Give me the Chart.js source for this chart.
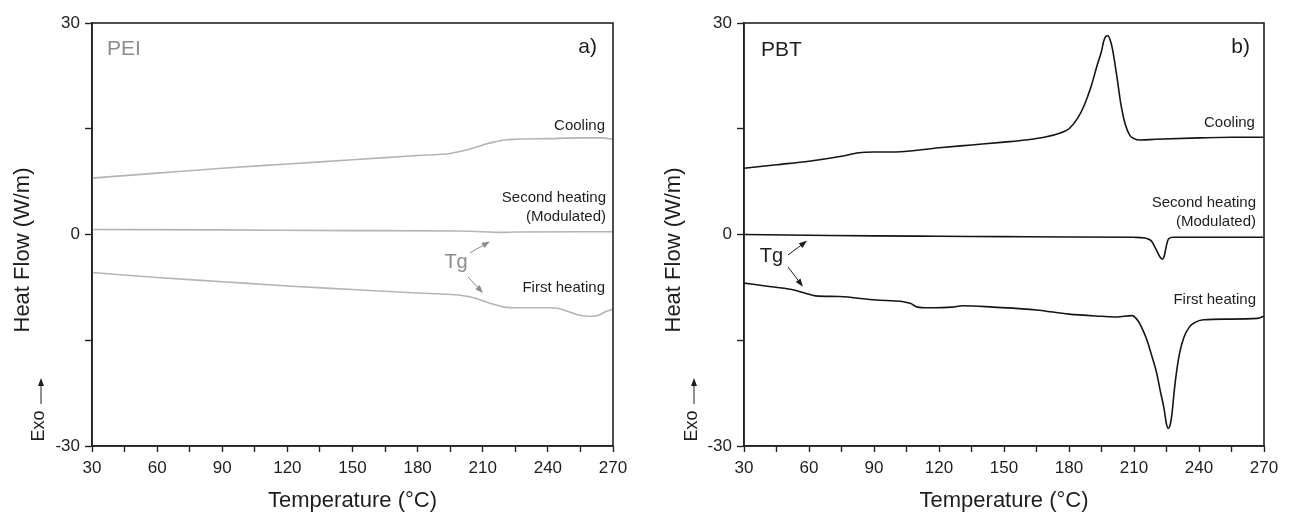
<!DOCTYPE html>
<html>
<head>
<meta charset="utf-8">
<title>DSC PEI / PBT</title>
<script src="https://cdn.jsdelivr.net/npm/chart.js@4.4.0/dist/chart.umd.min.js"></script>
<style>
  body { margin: 0; background: #fff; }
  #wrap { position: relative; width: 1294px; height: 513px; }
  .panel { position: absolute; top: 0; width: 647px; height: 513px; }
</style>
</head>
<body>
<div id="wrap">
  <div class="panel" style="left:0"><canvas id="pei" width="647" height="513"></canvas></div>
  <div class="panel" style="left:647px"><canvas id="pbt" width="647" height="513"></canvas></div>
</div>
<script>
// ---- PEI (a) ----
const peiCoolT = [30, 60, 90, 120, 150, 180, 195, 200, 205, 210, 215, 220, 225, 240, 255, 265, 270];
const peiCoolHF = [8.0, 8.7, 9.4, 10.0, 10.6, 11.2, 11.5, 11.8, 12.2, 12.7, 13.1, 13.4, 13.5, 13.6, 13.7, 13.7, 13.5];

const peiSecondT = [30, 90, 150, 200, 210, 218, 225, 270];
const peiSecondHF = [0.7, 0.65, 0.55, 0.5, 0.4, 0.3, 0.35, 0.4];

const peiFirstT = [30, 60, 90, 120, 150, 180, 195, 205, 210, 215, 220, 225, 240, 245, 250, 255, 260, 263, 267, 270];
const peiFirstHF = [-5.4, -6.1, -6.7, -7.3, -7.8, -8.3, -8.5, -8.9, -9.4, -9.9, -10.3, -10.4, -10.4, -10.5, -11.0, -11.5, -11.6, -11.5, -10.9, -10.6];

// ---- PBT (b) ----
const pbtCoolT = [30, 45, 60, 75, 83, 90, 100, 120, 135, 150, 160, 170, 176, 180, 184, 187, 190, 193, 195, 196, 197, 198, 199, 200, 202, 204, 206, 208, 210, 213, 220, 240, 255, 270];
const pbtCoolHF = [9.4, 9.9, 10.4, 11.1, 11.6, 11.7, 11.7, 12.3, 12.7, 13.1, 13.4, 13.9, 14.4, 15.0, 16.5, 18.3, 20.8, 24.0, 26.0, 27.4, 28.1, 28.2, 27.6, 26.4, 22.6, 18.4, 15.6, 14.1, 13.6, 13.4, 13.5, 13.7, 13.8, 13.8];

const pbtSecondT = [30, 60, 90, 120, 150, 180, 210, 215, 218, 220, 222, 223, 224, 225, 226, 228, 240, 270];
const pbtSecondHF = [0.0, -0.1, -0.2, -0.25, -0.3, -0.35, -0.4, -0.5, -0.9, -2.0, -3.2, -3.5, -3.0, -1.5, -0.6, -0.4, -0.4, -0.4];

const pbtFirstT = [30, 40, 52, 58, 63, 74, 91, 103, 107, 110, 115, 126, 131, 145, 165, 180, 195, 202, 209, 212, 214, 216, 218, 220.5, 222, 223.8, 225, 225.8, 226.6, 227.5, 228.5, 229.5, 231, 233, 235.6, 238, 242, 253, 267, 270];
const pbtFirstHF = [-6.9, -7.3, -7.8, -8.3, -8.7, -8.8, -9.3, -9.5, -9.8, -10.3, -10.4, -10.3, -10.1, -10.3, -10.7, -11.3, -11.6, -11.7, -11.5, -12.3, -13.5, -15.0, -17.0, -19.7, -22.0, -24.6, -26.9, -27.5, -27.1, -25.5, -22.4, -19.8, -16.9, -14.6, -13.1, -12.5, -12.1, -12.0, -11.9, -11.6];

const FONT = '"Liberation Sans", Arial, sans-serif';
const AXIS = '#222222';
const TEXT = '#1e1e1e';
const GRAY_LINE = '#b4b4b4';
const GRAY_TEXT = '#8c8c8c';
const DARK_LINE = '#151515';

Chart.defaults.font.family = FONT;
Chart.defaults.color = TEXT;

function pts(t, v) {
  return t.map((x, i) => ({ x: x, y: v[i] }));
}

function series(t, v, color) {
  return {
    data: pts(t, v),
    borderColor: color,
    borderWidth: 1.6,
    pointRadius: 0,
    fill: false,
    cubicInterpolationMode: 'monotone'
  };
}

function arrow(ctx, x1, y1, x2, y2, color) {
  const ang = Math.atan2(y2 - y1, x2 - x1);
  const len = 8, half = 3;
  ctx.strokeStyle = color;
  ctx.fillStyle = color;
  ctx.lineWidth = 1;
  ctx.beginPath();
  ctx.moveTo(x1, y1);
  ctx.lineTo(x2 - len * 0.8 * Math.cos(ang), y2 - len * 0.8 * Math.sin(ang));
  ctx.stroke();
  ctx.beginPath();
  ctx.moveTo(x2, y2);
  ctx.lineTo(x2 - len * Math.cos(ang) + half * Math.sin(ang), y2 - len * Math.sin(ang) - half * Math.cos(ang));
  ctx.lineTo(x2 - len * Math.cos(ang) - half * Math.sin(ang), y2 - len * Math.sin(ang) + half * Math.cos(ang));
  ctx.closePath();
  ctx.fill();
}

// frame box, y title, "Exo" marker, curve labels and Tg arrows
const decor = {
  id: 'decor',
  afterDraw(chart, args, o) {
    const { ctx, chartArea: a } = chart;
    const xs = chart.scales.x, ys = chart.scales.y;
    const px = v => xs.getPixelForValue(v);
    const py = v => ys.getPixelForValue(v);
    ctx.save();

    ctx.strokeStyle = AXIS;
    ctx.lineWidth = 1.6;
    ctx.strokeRect(a.left, a.top, a.right - a.left, a.bottom - a.top);

    // y axis title
    ctx.fillStyle = TEXT;
    ctx.textBaseline = 'middle';
    ctx.textAlign = 'center';
    ctx.save();
    ctx.translate(o.titleX, 250);
    ctx.rotate(-Math.PI / 2);
    ctx.font = '22px ' + FONT;
    ctx.fillText('Heat Flow (W/m)', 0, 0);
    ctx.restore();

    // Exo with upward arrow
    ctx.save();
    ctx.translate(o.exoX, 426);
    ctx.rotate(-Math.PI / 2);
    ctx.font = '18px ' + FONT;
    ctx.fillText('Exo', 0, 0);
    ctx.restore();
    arrow(ctx, o.exoX + 2, 404, o.exoX + 2, 378, TEXT);

    // text labels in data units
    o.labels.forEach(l => {
      ctx.font = l.size + 'px ' + FONT;
      ctx.fillStyle = l.color || TEXT;
      ctx.textAlign = l.align || 'right';
      ctx.textBaseline = 'middle';
      ctx.fillText(l.text, px(l.x), py(l.y));
    });

    o.arrows.forEach(r => {
      arrow(ctx, px(r[0]), py(r[1]), px(r[2]), py(r[3]), o.arrowColor);
    });

    ctx.restore();
  }
};

function makeChart(id, datasets, cfg) {
  return new Chart(document.getElementById(id), {
    type: 'line',
    data: { datasets: datasets },
    options: {
      responsive: false,
      animation: false,
      layout: { padding: { left: 0, top: 23, right: cfg.rightPad, bottom: 0 } },
      plugins: { legend: { display: false }, tooltip: { enabled: false }, decor: cfg.decor },
      scales: {
        x: {
          type: 'linear',
          min: 30, max: 270,
          afterFit: s => { s.height = 67; },
          ticks: {
            stepSize: 15,
            autoSkip: false,
            maxRotation: 0,
            padding: 6,
            font: { size: 17 },
            color: TEXT,
            callback: v => (v % 30 === 0 ? v : '')
          },
          grid: { drawOnChartArea: false, drawTicks: true, tickLength: 6, tickColor: AXIS, tickWidth: 1.4 },
          border: { display: true, color: AXIS, width: 1.6 },
          title: { display: true, text: 'Temperature (°C)', font: { size: 22 }, color: TEXT, padding: { top: 0, bottom: -1 } }
        },
        y: {
          type: 'linear',
          min: -30, max: 30,
          afterFit: s => { s.width = cfg.leftW; },
          ticks: {
            stepSize: 15,
            padding: 5,
            font: { size: 17 },
            color: TEXT,
            callback: v => (v % 30 === 0 ? v : '')
          },
          grid: { drawOnChartArea: false, drawTicks: true, tickLength: 7, tickColor: AXIS, tickWidth: 1.4 },
          border: { display: true, color: AXIS, width: 1.6 }
        }
      }
    },
    plugins: [decor]
  });
}

makeChart('pei', [
  series(peiCoolT, peiCoolHF, GRAY_LINE),
  series(peiSecondT, peiSecondHF, GRAY_LINE),
  series(peiFirstT, peiFirstHF, GRAY_LINE)
], {
  leftW: 92,
  rightPad: 34,
  decor: {
    titleX: 23,
    exoX: 39,
    arrowColor: GRAY_TEXT,
    labels: [
      { text: 'PEI', x: 36.9, y: 26.3, size: 21, align: 'left', color: GRAY_TEXT },
      { text: 'a)', x: 262.6, y: 26.6, size: 21 },
      { text: 'Cooling', x: 266.3, y: 15.4, size: 15 },
      { text: 'Second heating', x: 266.8, y: 5.2, size: 15 },
      { text: '(Modulated)', x: 266.8, y: 2.5, size: 15 },
      { text: 'First heating', x: 266.3, y: -7.6, size: 15 },
      { text: 'Tg', x: 197.7, y: -3.9, size: 20, align: 'center', color: GRAY_TEXT }
    ],
    arrows: [
      [204.1, -2.6, 213.3, -1.0],
      [203.2, -6.0, 210.1, -8.3]
    ]
  }
});

makeChart('pbt', [
  series(pbtCoolT, pbtCoolHF, DARK_LINE),
  series(pbtSecondT, pbtSecondHF, DARK_LINE),
  series(pbtFirstT, pbtFirstHF, DARK_LINE)
], {
  leftW: 97,
  rightPad: 30,
  decor: {
    titleX: 27,
    exoX: 45,
    arrowColor: TEXT,
    labels: [
      { text: 'PBT', x: 37.8, y: 26.2, size: 21, align: 'left' },
      { text: 'b)', x: 263.5, y: 26.6, size: 21 },
      { text: 'Cooling', x: 265.8, y: 15.8, size: 15 },
      { text: 'Second heating', x: 266.3, y: 4.5, size: 15 },
      { text: '(Modulated)', x: 266.3, y: 1.8, size: 15 },
      { text: 'First heating', x: 266.3, y: -9.3, size: 15 },
      { text: 'Tg', x: 42.7, y: -3.1, size: 20, align: 'center' }
    ],
    arrows: [
      [50.3, -2.9, 59.1, -0.9],
      [50.3, -4.6, 57.2, -7.4]
    ]
  }
});
</script>
</body>
</html>
